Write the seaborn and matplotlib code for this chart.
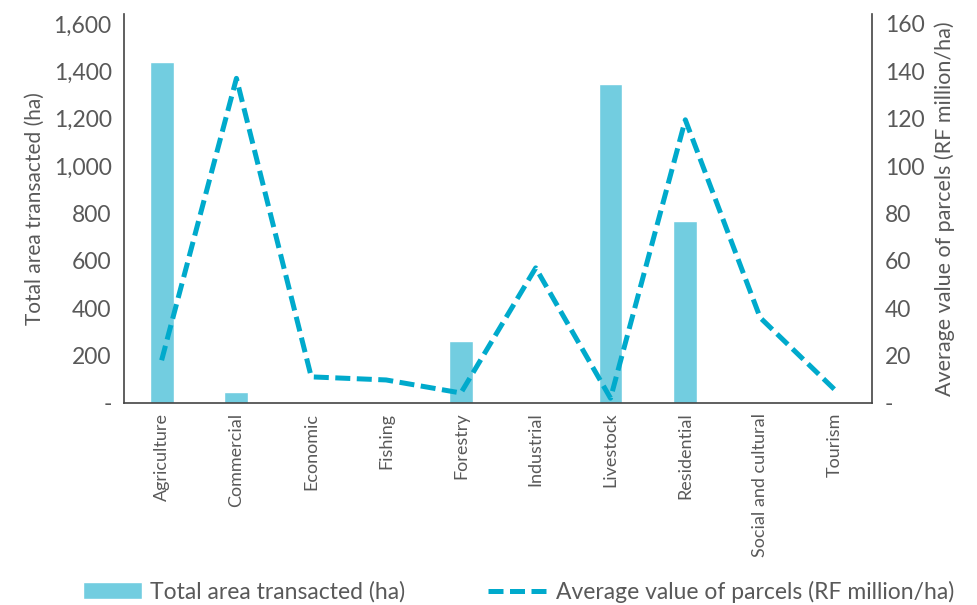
import matplotlib
matplotlib.use("Agg")
import matplotlib.pyplot as plt
import matplotlib.ticker as mticker
import seaborn as sns
import pandas as pd

categories = ["Agriculture", "Commercial", "Economic", "Fishing", "Forestry",
              "Industrial", "Livestock", "Residential", "Social and cultural", "Tourism"]
area_ha = [1440, 48, 5, 0, 262, 5, 1347, 768, 6, 0]
avg_value = [18, 137, 11, 9.7, 4.2, 57, 2, 119.5, 36, 5.5]

bar_color = "#72CDE0"
line_color = "#00AACC"
text_color = "#595959"

sns.set_theme(style="white")
plt.rcParams['font.family'] = ['Lato', 'DejaVu Sans']

df = pd.DataFrame({"category": categories, "area": area_ha, "value": avg_value})

fig = plt.figure(figsize=(9.78, 6.05), dpi=100)
ax = fig.add_axes([0.127, 0.334, 0.765, 0.643])

sns.barplot(data=df, x="category", y="area", color=bar_color, saturation=1,
            width=0.32, ax=ax, label="Total area transacted (ha)")
ax.set_xlim(-0.5, len(categories) - 0.5)
ax.set_ylim(0, 1642)
ax.set_yticks(range(0, 1601, 200))
ax.yaxis.set_major_formatter(mticker.FuncFormatter(lambda v, p: "-" if v == 0 else f"{int(v):,}"))

ax2 = ax.twinx()
sns.lineplot(x=list(range(len(categories))), y=avg_value, ax=ax2, color=line_color,
             linewidth=3.6, label="Average value of parcels (RF million/ha)")
ax2.lines[0].set_dashes((3.0, 1.3))
ax2.set_ylim(0, 164.2)
ax2.set_yticks(range(0, 161, 20))
ax2.yaxis.set_major_formatter(mticker.FuncFormatter(lambda v, p: "-" if v == 0 else f"{int(v)}"))
ax2.get_legend().remove()

for a in (ax, ax2):
    a.tick_params(axis="y", length=0, labelsize=16.5, labelcolor=text_color, pad=9)
    for s in a.spines.values():
        s.set_visible(False)
ax.spines["left"].set_visible(True)
ax.spines["bottom"].set_visible(True)
ax2.spines["right"].set_visible(True)
for s in (ax.spines["left"], ax.spines["bottom"], ax2.spines["right"]):
    s.set_color("#444444")
    s.set_linewidth(1.2)

ax.tick_params(axis="x", length=0, labelsize=13, labelcolor=text_color, rotation=90, pad=7)
ax.set_xlabel("")
ax.set_ylabel("Total area transacted (ha)", fontsize=15, color=text_color, labelpad=6)
ax2.set_ylabel("Average value of parcels (RF million/ha)", fontsize=15.5, color=text_color, labelpad=7)

h1, l1 = ax.get_legend_handles_labels()
h2, l2 = ax2.get_legend_handles_labels()
if ax.get_legend():
    ax.get_legend().remove()
fig.legend(h1 + h2, l1 + l2, loc="lower center", bbox_to_anchor=(0.53, -0.03), ncol=2,
           frameon=False, fontsize=16.5, labelcolor=text_color, handlelength=2.6,
           handleheight=0.7, columnspacing=3.6, handletextpad=0.35)

fig.savefig("out.png", dpi=100)
